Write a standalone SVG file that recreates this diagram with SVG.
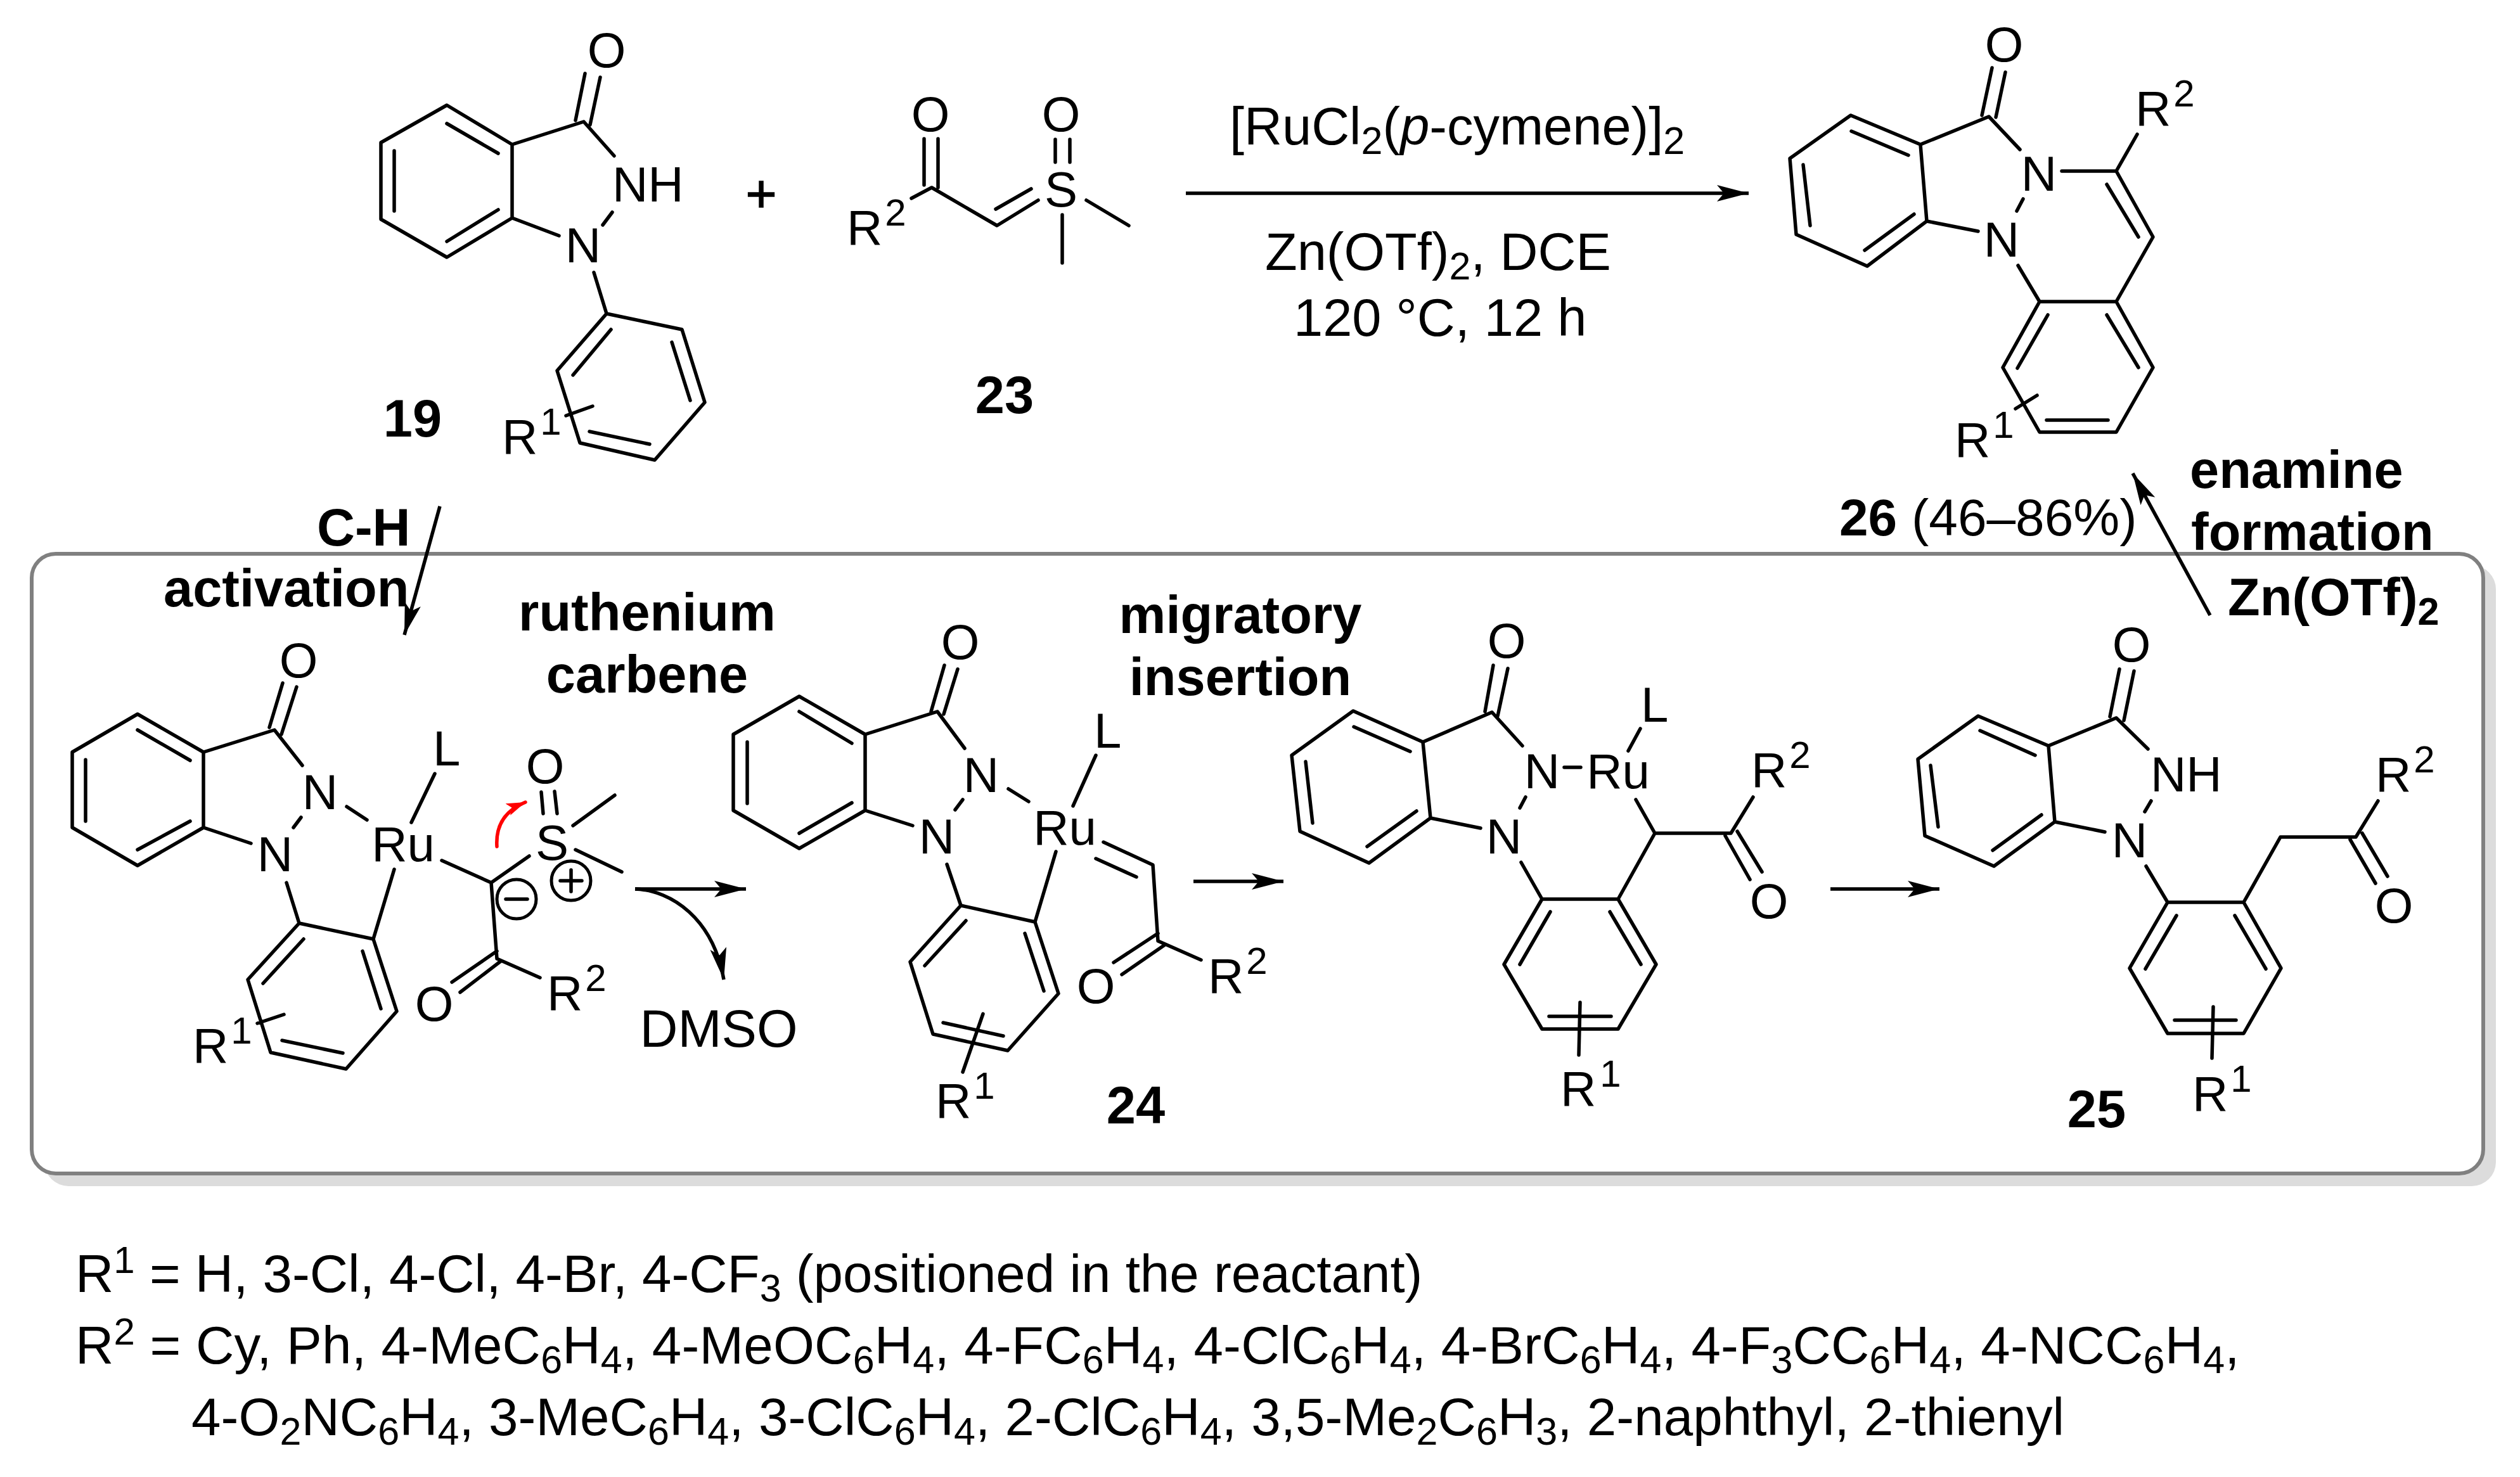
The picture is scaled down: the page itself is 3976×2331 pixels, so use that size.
<svg xmlns="http://www.w3.org/2000/svg" width="3976" height="2331" viewBox="0 0 3976 2331">
<style>
text{font-family:"Liberation Sans",Arial,sans-serif;fill:#000}
.a{font-size:78px;text-anchor:middle}
.l{font-size:78px}
.c{font-size:83px}
.t{font-size:83.5px}
.b{font-size:83px;font-weight:bold}
.m{text-anchor:middle}
.sb{font-size:61px;baseline-shift:-15px}
.sp{font-size:60px;baseline-shift:30px}
.bond{fill:none;stroke:#000;stroke-width:5.5;stroke-linecap:round;stroke-linejoin:round}
.arr{fill:none;stroke:#000;stroke-width:5.5}
</style>
<defs>
<marker id="head" markerUnits="userSpaceOnUse" markerWidth="52" markerHeight="28" refX="50" refY="14" orient="auto"><path d="M0,1 L50,14 L0,27 L11,14 Z" fill="#000"/></marker>
<marker id="headr" markerUnits="userSpaceOnUse" markerWidth="32" markerHeight="24" refX="30" refY="12" orient="auto"><path d="M0,2 L30,12 L0,22 L7,12 Z" fill="#f00"/></marker>
</defs>
<rect width="3976" height="2331" fill="#fff"/>
<g id="mechanism-box">
<rect x="70" y="892" width="3868" height="980" rx="38" fill="#dcdcdc"/>
<rect x="50" y="874" width="3868" height="978" rx="38" fill="#fff" stroke="#808080" stroke-width="6"/>
</g>
<g id="connectors">
<path class="arr" d="M1871,305H2759" marker-end="url(#head)"/>
<path class="arr" d="M694,799L638,1002" marker-end="url(#head)"/>
<path class="arr" d="M3487,971L3365,747" marker-end="url(#head)"/>
<path class="arr" d="M1002,1403H1177" marker-end="url(#head)"/>
<path class="arr" d="M1002,1403C1060,1405 1125,1450 1142,1546" marker-end="url(#head)"/>
<path class="arr" d="M1883,1391H2025" marker-end="url(#head)"/>
<path class="arr" d="M2888,1403H3060" marker-end="url(#head)"/>
<path d="M784,1336C782,1305 795,1280 829,1266" fill="none" stroke="#f00" stroke-width="5.5" stroke-linecap="round" marker-end="url(#headr)"/>
</g>
<g id="compound-19">
<path class="bond" d="M705,166L808,228L808,344L705,406L601,346L601,225ZM705,195L786,242M622,238V333M705,381L786,331M808,228L921,192L969,246M908,190L923,116M931,197L947,122M966,335L951,355M808,344L882,372M937,430L957,495M957,495L1076,520L1112,635L1033,726L915,699L879,585ZM964,520L904,592M1060,540L1089,632M930,681L1025,701M935,641L893,656"/>
<text class="a" x="957" y="106">O</text>
<text class="l" x="966" y="318">NH</text>
<text class="a" x="920" y="414">N</text>
<text class="l" x="792" y="716">R<tspan class="sp" dx="4">1</tspan></text>
<text class="b m" x="651" y="689">19</text>
</g>
<text id="plus" x="1201" y="334" text-anchor="middle" style="font-size:84px;stroke:#000;stroke-width:1.5">+</text>
<g id="compound-23">
<path class="bond" d="M1458,219V292M1480,219V296M1438,313L1470,296L1573,356L1638,316M1571,330L1627,298M1665,220V256M1688,220V256M1714,316L1781,356M1676,339V415"/>
<text class="a" x="1468" y="207">O</text>
<text class="a" x="1674" y="207">O</text>
<text class="a" x="1674" y="326">S</text>
<text class="l" x="1336" y="386">R<tspan class="sp" dx="4">2</tspan></text>
<text class="b m" x="1585" y="652">23</text>
</g>
<g id="conditions">
<text class="c" x="1940" y="228">[RuCl<tspan class="sb">2</tspan>(<tspan font-style="italic">p</tspan>-cymene)]<tspan class="sb">2</tspan></text>
<text class="c" x="1996" y="426">Zn(OTf)<tspan class="sb">2</tspan>, DCE</text>
<text class="c" x="2041" y="530">120 °C, 12 h</text>
</g>
<g id="compound-26">
<path class="bond" d="M2920,182L3030,228L3040,349L2946,420L2834,370L2824,250ZM2921,207L3011,245M2845,260L2856,356M2942,395L3020,338M3030,228L3138,184L3187,236M3127,182L3143,107M3149,185L3164,114M3192,314L3182,333M3040,349L3121,365M3184,419L3218,476M3253,270H3339L3397,374L3339,476M3339,270L3372,212M3324,291L3374,374M3218,476H3339L3397,580L3339,682H3218L3160,580ZM3324,497L3374,580M3231,497L3183,581M3229,663H3326M3214,624L3180,645"/>
<text class="a" x="3162" y="97">O</text>
<text class="a" x="3217" y="301">N</text>
<text class="a" x="3158" y="405">N</text>
<text class="l" x="3369" y="198">R<tspan class="sp" dx="4">2</tspan></text>
<text class="l" x="3084" y="721">R<tspan class="sp" dx="4">1</tspan></text>
<text class="c" x="2902" y="845" style="font-size:82px"><tspan font-weight="bold">26</tspan> (46–86%)</text>
</g>
<g id="step-labels">
<text class="b" x="500" y="861">C-H</text>
<text class="b" x="258" y="957">activation</text>
<text class="b m" x="1021" y="995">ruthenium</text>
<text class="b m" x="1021" y="1093">carbene</text>
<text class="b m" x="1957" y="999">migratory</text>
<text class="b m" x="1957" y="1097">insertion</text>
<text class="b" x="3455" y="770">enamine</text>
<text class="b" x="3457" y="868">formation</text>
<text class="b" x="3515" y="971">Zn(OTf)<tspan class="sb">2</tspan></text>
</g>
<g id="intermediate-a">
<path class="bond" d="M217,1127L321,1187L321,1306L217,1366L114,1306L114,1187ZM217,1152L300,1200M135,1199V1296M217,1341L300,1296M321,1187L433,1152L477,1208M425,1148L446,1078M444,1159L468,1084M475,1290L463,1306M321,1306L396,1331M452,1393L472,1457M472,1457L589,1482L626,1596L546,1687L427,1661L391,1546ZM479,1482L415,1552M572,1501L601,1592M445,1642L541,1662M448,1601L406,1615M547,1273L579,1294M649,1298L686,1221M622,1372L589,1482M697,1358L775,1393L835,1351M854,1250L857,1284M875,1249L879,1284M904,1303L970,1255M908,1341L981,1376M775,1393L784,1513L852,1543M784,1501L713,1550M790,1517L726,1566M798,1419H832M884,1390H918M901,1373V1407"/>
<circle cx="815" cy="1419" r="31" fill="none" stroke="#000" stroke-width="5"/>
<circle cx="901" cy="1390" r="31" fill="none" stroke="#000" stroke-width="5"/>
<text class="a" x="471" y="1069">O</text>
<text class="a" x="505" y="1277">N</text>
<text class="a" x="434" y="1375">N</text>
<text class="a" x="636" y="1359">Ru</text>
<text class="l" x="683" y="1208">L</text>
<text class="a" x="860" y="1236">O</text>
<text class="a" x="871" y="1357">S</text>
<text class="a" x="685" y="1611">O</text>
<text class="l" x="863" y="1594">R<tspan class="sp" dx="4">2</tspan></text>
<text class="l" x="304" y="1677">R<tspan class="sp" dx="4">1</tspan></text>
<text class="a" x="1134" y="1652" style="font-size:83px">DMSO</text>
</g>
<g id="compound-24">
<path class="bond" d="M1261,1099L1365,1159L1365,1279L1261,1339L1157,1279L1157,1159ZM1261,1123L1344,1173M1179,1171V1268M1261,1315L1344,1267M1365,1159L1479,1123L1522,1181M1469,1123L1490,1050M1489,1127L1511,1056M1519,1262L1507,1278M1365,1279L1440,1303M1494,1364L1516,1429M1516,1429L1633,1455L1670,1568L1590,1658L1472,1632L1436,1518ZM1524,1453L1459,1524M1617,1473L1647,1564M1488,1614L1583,1635M1551,1600L1519,1692M1591,1245L1623,1265M1693,1272L1729,1192M1666,1344L1633,1455M1741,1329L1819,1365L1827,1485L1895,1515M1729,1355L1793,1384M1827,1473L1757,1519M1838,1491L1770,1538"/>
<text class="a" x="1515" y="1040">O</text>
<text class="a" x="1548" y="1250">N</text>
<text class="a" x="1478" y="1347">N</text>
<text class="a" x="1680" y="1333">Ru</text>
<text class="l" x="1726" y="1180">L</text>
<text class="a" x="1729" y="1583">O</text>
<text class="l" x="1906" y="1567">R<tspan class="sp" dx="4">2</tspan></text>
<text class="l" x="1476" y="1764">R<tspan class="sp" dx="4">1</tspan></text>
<text class="b m" x="1792" y="1773">24</text>
</g>
<g id="intermediate-c">
<path class="bond" d="M2135,1122L2245,1171L2257,1291L2160,1362L2051,1312L2038,1192ZM2136,1147L2225,1186M2060,1202L2071,1299M2157,1336L2235,1280M2245,1171L2354,1124L2402,1177M2343,1123L2356,1050M2363,1130L2379,1055M2407,1258L2398,1275M2257,1291L2336,1307M2400,1361L2433,1419M2433,1419H2553L2613,1522L2553,1624H2433L2373,1522ZM2446,1439L2398,1522M2540,1439L2589,1522M2444,1604H2542M2493,1582L2491,1665M2468,1211H2494M2569,1185L2588,1150M2581,1262L2611,1315L2553,1419M2611,1315H2731L2766,1258M2722,1319L2761,1388M2741,1312L2780,1376"/>
<text class="a" x="2377" y="1038">O</text>
<text class="a" x="2433" y="1244">N</text>
<text class="a" x="2373" y="1347">N</text>
<text class="a" x="2553" y="1244">Ru</text>
<text class="l" x="2589" y="1139">L</text>
<text class="l" x="2763" y="1242">R<tspan class="sp" dx="4">2</tspan></text>
<text class="a" x="2791" y="1449">O</text>
<text class="l" x="2462" y="1745">R<tspan class="sp" dx="6">1</tspan></text>
</g>
<g id="compound-25">
<path class="bond" d="M3121,1130L3232,1177L3242,1297L3146,1367L3037,1319L3026,1198ZM3124,1153L3211,1192M3046,1208L3058,1305M3144,1342L3221,1286M3232,1177L3339,1133L3389,1182M3329,1131L3344,1056M3351,1137L3367,1059M3394,1264L3384,1281M3242,1297L3321,1313M3386,1367L3420,1424M3420,1424H3540L3599,1528L3540,1631H3420L3360,1528ZM3434,1445L3385,1529M3526,1445L3575,1529M3431,1610H3528M3492,1589L3490,1670M3540,1424L3598,1321H3717L3752,1264M3708,1325L3748,1394M3727,1315L3767,1383"/>
<text class="a" x="3363" y="1044">O</text>
<text class="l" x="3393" y="1249">NH</text>
<text class="a" x="3360" y="1353">N</text>
<text class="l" x="3748" y="1249">R<tspan class="sp" dx="4">2</tspan></text>
<text class="a" x="3777" y="1456">O</text>
<text class="l" x="3459" y="1753">R<tspan class="sp" dx="4">1</tspan></text>
<text class="b m" x="3308" y="1779">25</text>
</g>
<g id="substituents">
<text class="t" x="119" y="2039">R<tspan class="sp">1</tspan> = H, 3-Cl, 4-Cl, 4-Br, 4-CF<tspan class="sb">3</tspan> (positioned in the reactant)</text>
<text class="t" x="119" y="2152" style="letter-spacing:.22px">R<tspan class="sp">2</tspan> = Cy, Ph, 4-MeC<tspan class="sb">6</tspan>H<tspan class="sb">4</tspan>, 4-MeOC<tspan class="sb">6</tspan>H<tspan class="sb">4</tspan>, 4-FC<tspan class="sb">6</tspan>H<tspan class="sb">4</tspan>, 4-ClC<tspan class="sb">6</tspan>H<tspan class="sb">4</tspan>, 4-BrC<tspan class="sb">6</tspan>H<tspan class="sb">4</tspan>, 4-F<tspan class="sb">3</tspan>CC<tspan class="sb">6</tspan>H<tspan class="sb">4</tspan>, 4-NCC<tspan class="sb">6</tspan>H<tspan class="sb">4</tspan>,</text>
<text class="t" x="302" y="2265" style="letter-spacing:.07px">4-O<tspan class="sb">2</tspan>NC<tspan class="sb">6</tspan>H<tspan class="sb">4</tspan>, 3-MeC<tspan class="sb">6</tspan>H<tspan class="sb">4</tspan>, 3-ClC<tspan class="sb">6</tspan>H<tspan class="sb">4</tspan>, 2-ClC<tspan class="sb">6</tspan>H<tspan class="sb">4</tspan>, 3,5-Me<tspan class="sb">2</tspan>C<tspan class="sb">6</tspan>H<tspan class="sb">3</tspan>, 2-naphthyl, 2-thienyl</text>
</g>
</svg>
